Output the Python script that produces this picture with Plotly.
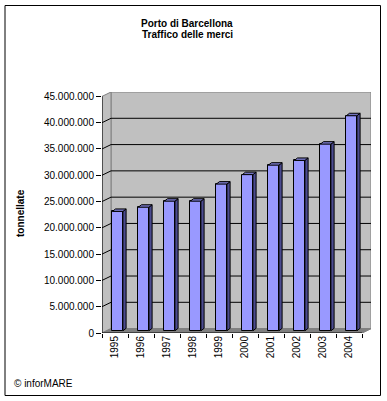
import plotly.graph_objects as go

# ---- data ----
years = ["1995", "1996", "1997", "1998", "1999", "2000", "2001", "2002", "2003", "2004"]
tonnes = [22700000, 23500000, 24650000, 24650000, 27900000, 29700000, 31500000, 32400000, 35500000, 40900000]
ytick_vals = [0, 5000000, 10000000, 15000000, 20000000, 25000000, 30000000, 35000000, 40000000, 45000000]
ytick_text = ["0", "5.000.000", "10.000.000", "15.000.000", "20.000.000", "25.000.000",
              "30.000.000", "35.000.000", "40.000.000", "45.000.000"]
title_lines = ["Porto di Barcellona", "Traffico delle merci"]
y_title = "tonnellate"
credit = "© inforMARE"

# ---- geometry (figure pixels -> data units) ----
W, H = 387, 401
ML, MR, MT, MB = 102, 16, 92, 68
plot_w = W - ML - MR
plot_h = H - MT - MB
n = len(years)
px_per_cat = 26.0
DX = 9.0 / px_per_cat                      # depth offset in category units
YMAX = ytick_vals[-1]
px_per_unit_y = (plot_h - 4.4) / YMAX
DY = 4.4 / px_per_unit_y                   # depth offset in value units
xr = [0, n + DX]
yr = [0, YMAX + DY]

# bar 3D parameters
face_dx = 2.6 / px_per_cat
face_dy = 2.2 / px_per_unit_y
bar_w = 10.6 / px_per_cat
side_dx = 3.2 / px_per_cat
side_dy = 2.5 / px_per_unit_y

FONT = "Liberation Sans, Arial, sans-serif"
fig = go.Figure()

def poly(pts):
    return "M " + " L ".join(f"{x},{y}" for x, y in pts) + " Z"

shapes = []
# back wall
shapes.append(dict(type="path", xref="x", yref="y", layer="below",
                   path=poly([(DX, DY), (n + DX, DY), (n + DX, YMAX + DY), (DX, YMAX + DY)]),
                   fillcolor="#c0c0c0", line=dict(color="#808080", width=1)))
# left wall
shapes.append(dict(type="path", xref="x", yref="y", layer="below",
                   path=poly([(0, 0), (DX, DY), (DX, YMAX + DY), (0, YMAX)]),
                   fillcolor="#c0c0c0", line=dict(color="#808080", width=1)))
# floor
shapes.append(dict(type="path", xref="x", yref="y", layer="below",
                   path=poly([(0, 0), (n, 0), (n + DX, DY), (DX, DY)]),
                   fillcolor="#808080", line=dict(color="#808080", width=1)))
# gridlines
for v in ytick_vals[1:-1]:
    shapes.append(dict(type="line", xref="x", yref="y", layer="below",
                       x0=DX, y0=v + DY, x1=n + DX, y1=v + DY, line=dict(color="black", width=1)))
    shapes.append(dict(type="line", xref="x", yref="y", layer="below",
                       x0=0, y0=v, x1=DX, y1=v + DY, line=dict(color="black", width=1)))
# outer border
shapes.append(dict(type="rect", xref="paper", yref="paper",
                   x0=(5 - ML) / plot_w, x1=(380.5 - ML) / plot_w,
                   y0=(H - MB - 395.5) / plot_h, y1=(H - MB - 5.5) / plot_h,
                   line=dict(color="black", width=1), fillcolor="rgba(0,0,0,0)"))

# bar front faces
xc = [i + 0.5 + face_dx for i in range(n)]
fig.add_trace(go.Bar(x=xc, y=tonnes, base=[face_dy] * n, width=bar_w,
                     marker=dict(color="#9999ff", line=dict(color="black", width=1)),
                     showlegend=False, hoverinfo="skip"))

# bar side & top faces
for i, v in enumerate(tonnes):
    xl = xc[i] - bar_w / 2
    xrr = xc[i] + bar_w / 2
    b = face_dy
    t = face_dy + v
    fig.add_trace(go.Scatter(
        x=[xrr, xrr + side_dx, xrr + side_dx, xrr, xrr],
        y=[b, b + side_dy, t + side_dy, t, b],
        fill="toself", fillcolor="#4b4b8f", mode="lines",
        line=dict(color="black", width=1), showlegend=False, hoverinfo="skip"))
    fig.add_trace(go.Scatter(
        x=[xl, xl + side_dx, xrr + side_dx, xrr, xl],
        y=[t, t + side_dy, t + side_dy, t, t],
        fill="toself", fillcolor="#7373bf", mode="lines",
        line=dict(color="black", width=1), showlegend=False, hoverinfo="skip"))

# front axis lines
fig.add_trace(go.Scatter(x=[0, 0], y=[0, YMAX], mode="lines", line=dict(color="black", width=1),
                         cliponaxis=False, showlegend=False, hoverinfo="skip"))
fig.add_trace(go.Scatter(x=[0, n], y=[0, 0], mode="lines", line=dict(color="black", width=1),
                         cliponaxis=False, showlegend=False, hoverinfo="skip"))
# floor right edge
fig.add_trace(go.Scatter(x=[n, n + DX], y=[0, DY], mode="lines", line=dict(color="#808080", width=1),
                         cliponaxis=False, showlegend=False, hoverinfo="skip"))

# dummy trace on xaxis2 for tick marks at category boundaries
fig.add_trace(go.Scatter(x=[0, n], y=[0, 0], xaxis="x2", mode="markers", marker=dict(opacity=0),
                         showlegend=False, hoverinfo="skip"))

# titles
for k, line in enumerate(title_lines):
    fig.add_annotation(text=f"<b>{line}</b>", xref="paper", yref="paper",
                       x=(187 - ML) / plot_w, y=(H - MB - (24 + 11 * k)) / plot_h,
                       showarrow=False, xanchor="center", yanchor="middle",
                       font=dict(family=FONT, size=10, color="black"))
fig.add_annotation(text=f"<b>{y_title}</b>", xref="paper", yref="paper",
                   x=(20 - ML) / plot_w, y=(H - MB - 213) / plot_h, textangle=-90,
                   showarrow=False, xanchor="center", yanchor="middle",
                   font=dict(family=FONT, size=10, color="black"))
fig.add_annotation(text=credit, xref="paper", yref="paper",
                   x=(12 - ML) / plot_w, y=(H - MB - 383) / plot_h,
                   showarrow=False, xanchor="left", yanchor="middle",
                   font=dict(family=FONT, size=10, color="black"))

fig.update_layout(
    width=W, height=H,
    margin=dict(l=ML, r=MR, t=MT, b=MB, pad=0),
    paper_bgcolor="white", plot_bgcolor="white",
    shapes=shapes, showlegend=False,
    xaxis=dict(range=xr, tickvals=[i + 0.5 for i in range(n)], ticktext=years,
               tickangle=-90, ticks="", showgrid=False, zeroline=False, showline=False,
               tickfont=dict(family=FONT, size=10, color="black")),
    xaxis2=dict(range=xr, overlaying="x", side="bottom", tickvals=list(range(n + 1)),
                showticklabels=False, ticks="outside", ticklen=4, tickcolor="black",
                showgrid=False, zeroline=False, showline=False, anchor="y"),
    yaxis=dict(range=yr, tickvals=ytick_vals, ticktext=ytick_text, ticks="outside",
               ticklen=5, tickcolor="black", showgrid=False, zeroline=False, showline=False,
               tickfont=dict(family=FONT, size=10, color="black")),
    bargap=0,
)

fig.write_html("out.html", config={"displayModeBar": False},
               post_script="document.body.style.margin='0';document.body.style.overflow='hidden';")
